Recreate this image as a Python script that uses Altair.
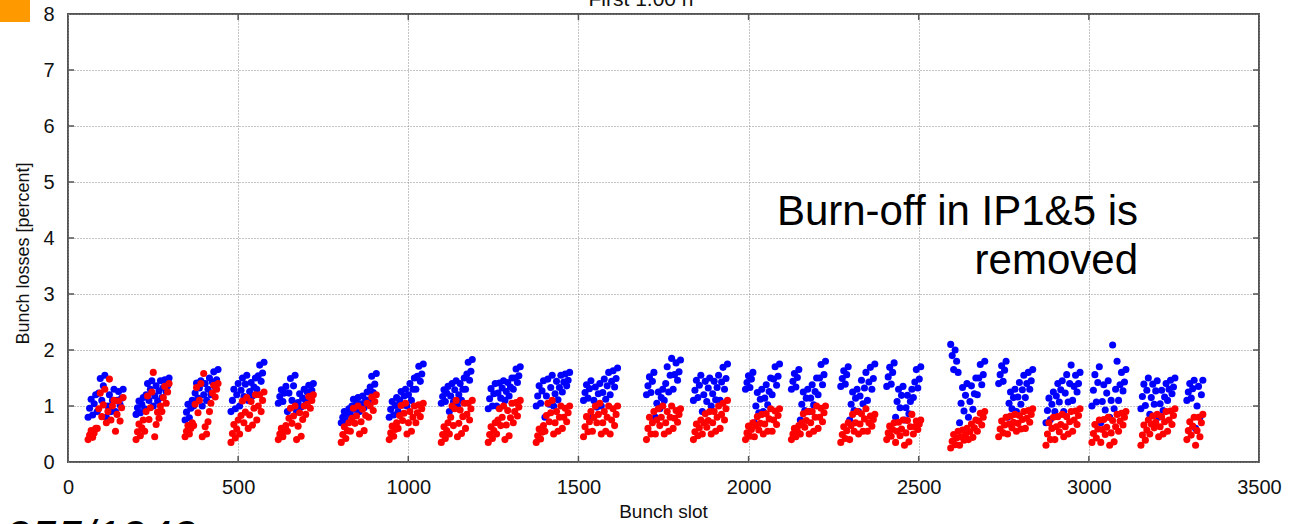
import altair as alt
import pandas as pd

# ---- data ----
# bunch-slot span of each injection group (first and last bunch)
group_start = [59, 200, 344, 479, 618, 803, 944, 1097, 1235, 1376, 1515, 1700,
               1838, 1991, 2126, 2271, 2406, 2594, 2735, 2874, 3009, 3153, 3288]
group_end = [162, 297, 441, 576, 721, 906, 1044, 1188, 1329, 1474, 1615, 1800,
             1938, 2091, 2226, 2371, 2506, 2694, 2835, 2974, 3109, 3253, 3335]

# losses [%] along each group, beam 1 (blue)
blue_loss = [
    [0.80, 0.96, 1.12, 0.84, 1.04, 1.20, 0.90, 1.23, 1.49, 1.10, 1.36, 1.55, 0.80, 1.00, 1.20, 0.90, 1.10, 1.30, 0.90, 1.10, 1.26, 1.02, 1.14, 1.30],
    [0.85, 0.97, 1.09, 0.88, 1.03, 1.15, 0.95, 1.20, 1.40, 1.10, 1.30, 1.45, 1.00, 1.18, 1.36, 1.09, 1.27, 1.45, 1.15, 1.33, 1.47, 1.26, 1.36, 1.50],
    [0.75, 0.89, 1.03, 0.79, 0.96, 1.10, 1.00, 1.23, 1.41, 1.14, 1.32, 1.45, 1.00, 1.20, 1.40, 1.10, 1.30, 1.50, 1.20, 1.43, 1.61, 1.34, 1.47, 1.65],
    [0.90, 1.10, 1.30, 0.95, 1.20, 1.40, 1.00, 1.28, 1.50, 1.17, 1.39, 1.55, 1.10, 1.26, 1.42, 1.18, 1.34, 1.50, 1.30, 1.54, 1.73, 1.44, 1.59, 1.78],
    [1.05, 1.17, 1.29, 1.08, 1.23, 1.35, 0.90, 1.23, 1.49, 1.10, 1.36, 1.55, 0.90, 1.06, 1.22, 0.98, 1.14, 1.30, 1.10, 1.25, 1.37, 1.19, 1.28, 1.40],
    [0.70, 0.80, 0.90, 0.73, 0.85, 0.95, 0.85, 1.00, 1.12, 0.94, 1.06, 1.15, 0.90, 1.04, 1.18, 0.97, 1.11, 1.25, 1.10, 1.34, 1.53, 1.24, 1.39, 1.58],
    [0.80, 0.94, 1.08, 0.84, 1.01, 1.15, 0.90, 1.10, 1.26, 1.02, 1.18, 1.30, 1.00, 1.20, 1.40, 1.10, 1.30, 1.50, 1.30, 1.53, 1.71, 1.44, 1.57, 1.75],
    [1.05, 1.17, 1.29, 1.08, 1.23, 1.35, 0.90, 1.18, 1.40, 1.07, 1.29, 1.45, 1.00, 1.20, 1.40, 1.10, 1.30, 1.50, 1.30, 1.57, 1.78, 1.46, 1.62, 1.83],
    [0.95, 1.13, 1.31, 1.00, 1.22, 1.40, 1.00, 1.23, 1.41, 1.14, 1.32, 1.45, 1.10, 1.26, 1.42, 1.18, 1.34, 1.50, 1.30, 1.50, 1.66, 1.42, 1.54, 1.70],
    [1.00, 1.18, 1.36, 1.05, 1.27, 1.45, 0.80, 1.18, 1.48, 1.03, 1.33, 1.55, 1.00, 1.22, 1.44, 1.11, 1.33, 1.55, 1.25, 1.43, 1.57, 1.36, 1.46, 1.60],
    [1.10, 1.24, 1.38, 1.14, 1.31, 1.45, 0.80, 1.10, 1.34, 0.98, 1.22, 1.40, 1.00, 1.24, 1.48, 1.12, 1.36, 1.60, 1.20, 1.44, 1.63, 1.34, 1.49, 1.68],
    [1.20, 1.36, 1.52, 1.24, 1.44, 1.60, 0.80, 1.05, 1.25, 0.95, 1.15, 1.30, 1.10, 1.40, 1.70, 1.25, 1.55, 1.85, 1.30, 1.56, 1.77, 1.46, 1.61, 1.82],
    [1.10, 1.28, 1.46, 1.15, 1.37, 1.55, 0.90, 1.20, 1.44, 1.08, 1.32, 1.50, 1.00, 1.22, 1.44, 1.11, 1.33, 1.55, 1.10, 1.43, 1.69, 1.30, 1.49, 1.75],
    [1.30, 1.42, 1.54, 1.33, 1.48, 1.60, 0.70, 1.00, 1.24, 0.88, 1.12, 1.30, 0.90, 1.14, 1.38, 1.02, 1.26, 1.50, 1.20, 1.48, 1.70, 1.37, 1.53, 1.75],
    [1.30, 1.44, 1.58, 1.34, 1.51, 1.65, 0.75, 1.03, 1.25, 0.92, 1.14, 1.30, 0.90, 1.14, 1.38, 1.02, 1.26, 1.50, 1.20, 1.50, 1.74, 1.38, 1.56, 1.80],
    [1.35, 1.49, 1.63, 1.39, 1.56, 1.70, 0.75, 1.03, 1.25, 0.92, 1.14, 1.30, 0.90, 1.18, 1.46, 1.04, 1.32, 1.60, 1.10, 1.43, 1.69, 1.30, 1.49, 1.75],
    [1.35, 1.52, 1.69, 1.39, 1.60, 1.77, 0.80, 1.08, 1.30, 0.97, 1.19, 1.35, 0.75, 0.97, 1.19, 0.86, 1.08, 1.30, 1.15, 1.43, 1.65, 1.32, 1.48, 1.70],
    [2.10, 1.90, 1.65, 2.00, 1.80, 1.60, 0.70, 1.05, 1.33, 0.91, 1.19, 1.40, 0.80, 1.08, 1.36, 0.94, 1.22, 1.50, 1.20, 1.50, 1.74, 1.38, 1.56, 1.80],
    [1.40, 1.56, 1.72, 1.44, 1.64, 1.80, 0.80, 1.05, 1.25, 0.95, 1.15, 1.30, 0.90, 1.16, 1.42, 1.03, 1.29, 1.55, 1.15, 1.40, 1.60, 1.30, 1.45, 1.65],
    [0.70, 0.92, 1.14, 0.76, 1.03, 1.25, 0.90, 1.18, 1.40, 1.07, 1.29, 1.45, 0.90, 1.23, 1.56, 1.07, 1.40, 1.73, 1.10, 1.35, 1.55, 1.25, 1.40, 1.60],
    [1.00, 1.28, 1.56, 1.07, 1.42, 1.70, 0.70, 1.08, 1.38, 0.93, 1.23, 1.45, 0.80, 1.10, 2.09, 0.95, 1.30, 1.80, 1.10, 1.38, 1.60, 1.27, 1.43, 1.65],
    [0.95, 1.17, 1.39, 1.01, 1.28, 1.50, 0.85, 1.15, 1.39, 1.03, 1.27, 1.45, 0.80, 1.04, 1.28, 0.92, 1.16, 1.40, 1.10, 1.30, 1.46, 1.22, 1.34, 1.50],
    [1.10, 1.25, 1.40, 1.14, 1.31, 1.46, 0.60, 1.00, 1.35, 0.80, 1.20, 1.46],
]

# losses [%] along each group, beam 2 (red)
red_loss = [
    [0.40, 0.48, 0.56, 0.44, 0.52, 0.60, 0.60, 0.95, 1.23, 0.81, 1.02, 1.30, 0.70, 0.90, 1.48, 0.75, 1.00, 1.10, 0.55, 0.85, 1.09, 0.73, 0.97, 1.15],
    [0.40, 0.54, 0.68, 0.47, 0.61, 0.75, 0.55, 0.90, 1.18, 0.76, 0.97, 1.25, 1.60, 0.45, 0.67, 0.89, 0.78, 1.00, 0.90, 1.15, 1.35, 1.05, 1.25, 1.40],
    [0.45, 0.55, 0.65, 0.50, 0.60, 0.70, 0.65, 1.03, 1.33, 0.88, 1.10, 1.40, 0.45, 1.58, 0.63, 0.50, 0.72, 0.90, 1.05, 1.23, 1.37, 1.16, 1.30, 1.40],
    [0.35, 0.51, 0.67, 0.43, 0.59, 0.75, 0.50, 0.83, 1.09, 0.70, 0.89, 1.15, 0.60, 0.84, 1.08, 0.66, 0.96, 1.20, 0.75, 1.00, 1.20, 0.90, 1.10, 1.25],
    [0.40, 0.50, 0.60, 0.45, 0.55, 0.65, 0.55, 0.78, 0.96, 0.69, 0.82, 1.00, 0.40, 0.64, 0.88, 0.46, 0.76, 1.00, 0.85, 1.03, 1.17, 0.96, 1.10, 1.20],
    [0.35, 0.49, 0.63, 0.42, 0.56, 0.70, 0.55, 0.78, 0.96, 0.69, 0.82, 1.00, 0.50, 0.72, 0.94, 0.56, 0.83, 1.05, 0.80, 1.00, 1.16, 0.92, 1.08, 1.20],
    [0.40, 0.52, 0.64, 0.46, 0.58, 0.70, 0.60, 0.83, 1.01, 0.74, 0.87, 1.05, 0.50, 0.70, 0.90, 0.55, 0.80, 1.00, 0.70, 0.88, 1.02, 0.81, 0.95, 1.05],
    [0.35, 0.49, 0.63, 0.42, 0.56, 0.70, 0.50, 0.80, 1.00, 0.65, 0.95, 1.10, 0.45, 0.69, 0.93, 0.51, 0.81, 1.05, 0.60, 0.85, 1.05, 0.75, 0.95, 1.10],
    [0.35, 0.49, 0.63, 0.42, 0.56, 0.70, 0.50, 0.75, 0.95, 0.65, 0.80, 1.00, 0.40, 0.66, 0.92, 0.47, 0.79, 1.05, 0.70, 0.90, 1.06, 0.82, 0.98, 1.10],
    [0.35, 0.47, 0.59, 0.41, 0.53, 0.65, 0.55, 0.83, 1.05, 0.72, 0.88, 1.10, 0.50, 0.70, 0.90, 0.55, 0.80, 1.00, 0.60, 0.80, 0.96, 0.72, 0.88, 1.00],
    [0.45, 0.63, 0.81, 0.54, 0.72, 0.90, 0.55, 0.80, 1.00, 0.70, 0.85, 1.05, 0.50, 0.70, 0.90, 0.55, 0.80, 1.00, 0.50, 0.75, 0.95, 0.65, 0.85, 1.00],
    [0.40, 0.60, 0.80, 0.50, 0.70, 0.90, 0.50, 0.75, 0.95, 0.65, 0.80, 1.00, 0.50, 0.70, 0.90, 0.55, 0.80, 1.00, 0.60, 0.78, 0.92, 0.71, 0.85, 0.95],
    [0.40, 0.54, 0.68, 0.47, 0.61, 0.75, 0.50, 0.70, 0.86, 0.62, 0.74, 0.90, 0.50, 0.70, 0.90, 0.55, 0.80, 1.00, 0.60, 0.85, 1.05, 0.75, 0.95, 1.10],
    [0.40, 0.52, 0.64, 0.46, 0.58, 0.70, 0.45, 0.65, 0.81, 0.57, 0.69, 0.85, 0.50, 0.68, 0.86, 0.55, 0.77, 0.95, 0.55, 0.75, 0.91, 0.67, 0.83, 0.95],
    [0.40, 0.50, 0.60, 0.45, 0.55, 0.65, 0.50, 0.70, 0.86, 0.62, 0.74, 0.90, 0.50, 0.70, 0.90, 0.55, 0.80, 1.00, 0.60, 0.80, 0.96, 0.72, 0.88, 1.00],
    [0.35, 0.49, 0.63, 0.42, 0.56, 0.70, 0.40, 0.65, 0.85, 0.55, 0.70, 0.90, 0.50, 0.68, 0.86, 0.55, 0.77, 0.95, 0.55, 0.70, 0.82, 0.64, 0.76, 0.85],
    [0.40, 0.52, 0.64, 0.46, 0.58, 0.70, 0.35, 0.55, 0.71, 0.47, 0.59, 0.75, 0.30, 0.52, 0.74, 0.36, 0.63, 0.85, 0.50, 0.63, 0.73, 0.58, 0.68, 0.75],
    [0.25, 0.37, 0.49, 0.31, 0.43, 0.55, 0.30, 0.45, 0.57, 0.39, 0.48, 0.60, 0.40, 0.54, 0.68, 0.44, 0.61, 0.75, 0.55, 0.73, 0.87, 0.66, 0.80, 0.90],
    [0.45, 0.59, 0.73, 0.52, 0.66, 0.80, 0.50, 0.68, 0.82, 0.61, 0.71, 0.85, 0.55, 0.69, 0.83, 0.59, 0.76, 0.90, 0.60, 0.78, 0.92, 0.71, 0.85, 0.95],
    [0.30, 0.50, 0.70, 0.40, 0.60, 0.80, 0.40, 0.63, 0.81, 0.54, 0.67, 0.85, 0.45, 0.63, 0.81, 0.50, 0.72, 0.90, 0.55, 0.75, 0.91, 0.67, 0.83, 0.95],
    [0.35, 0.51, 0.67, 0.43, 0.59, 0.75, 0.35, 0.58, 0.76, 0.49, 0.62, 0.80, 0.30, 0.52, 0.74, 0.36, 0.63, 0.85, 0.55, 0.73, 0.87, 0.66, 0.80, 0.90],
    [0.30, 0.48, 0.66, 0.39, 0.57, 0.75, 0.50, 0.68, 0.82, 0.61, 0.71, 0.85, 0.45, 0.63, 0.81, 0.50, 0.72, 0.90, 0.55, 0.75, 0.91, 0.67, 0.83, 0.95],
    [0.40, 0.56, 0.72, 0.48, 0.64, 0.80, 0.30, 0.56, 0.80, 0.45, 0.70, 0.85],
]

x_ticks = [0, 500, 1000, 1500, 2000, 2500, 3000, 3500]
y_ticks = [0, 1, 2, 3, 4, 5, 6, 7, 8]
inner_x_ticks = [500, 1000, 1500, 2000, 2500, 3000]
inner_y_ticks = [1, 2, 3, 4, 5, 6, 7]


def beam_frame(values):
    rows = []
    for g, vals in enumerate(values):
        s, e = group_start[g], group_end[g]
        n = len(vals)
        for i, v in enumerate(vals):
            rows.append({"slot": s + (e - s) * i / (n - 1), "loss": v})
    return pd.DataFrame(rows)


blue_df = beam_frame(blue_loss)
red_df = beam_frame(red_loss)

FONT = "Liberation Sans"
W, H = 1191, 448

x_scale = alt.Scale(domain=[0, 3500], nice=False, zero=False)
y_scale = alt.Scale(domain=[0, 8], nice=False)

x_axis = alt.Axis(values=x_ticks, format="d", grid=True, gridColor="#8a8a8a", gridDash=[1, 2],
                  gridWidth=1, domain=False, ticks=False, tickSize=0,
                  labelFontSize=20, labelFont=FONT, labelColor="#111",
                  labelPadding=15, labelFlush=False, title="Bunch slot",
                  titleFont=FONT, titleFontSize=19, titleFontWeight="normal",
                  titleColor="#111", titleX=595, titleY=40, titleBaseline="top")
y_axis = alt.Axis(values=y_ticks, format="d", grid=True, gridColor="#8a8a8a", gridDash=[1, 2],
                  gridWidth=1, domain=False, ticks=False, tickSize=0,
                  labelFontSize=20, labelFont=FONT, labelColor="#111",
                  labelPadding=14, title="Bunch losses [percent]",
                  titleFont=FONT, titleFontSize=18, titleFontWeight="normal",
                  titleColor="#111", titleX=-36, titleY=239)

X = alt.X("slot:Q", scale=x_scale, axis=x_axis)
Y = alt.Y("loss:Q", scale=y_scale, axis=y_axis)

blue = alt.Chart(blue_df).mark_circle(size=50, opacity=1, color="#0000ff").encode(x=X, y=Y)
red = alt.Chart(red_df).mark_circle(size=50, opacity=1, color="#ff0000").encode(x=X, y=Y)

# inward mirror ticks on the frame
xt = pd.DataFrame({"slot": inner_x_ticks})
yt = pd.DataFrame({"loss": inner_y_ticks})
tick_style = dict(color="#555", strokeWidth=1.5)
top_ticks = alt.Chart(xt).mark_rule(**tick_style).encode(
    x=X, y=alt.value(0), y2=alt.value(6))
bot_ticks = alt.Chart(xt).mark_rule(**tick_style).encode(
    x=X, y=alt.value(H - 6), y2=alt.value(H))
left_ticks = alt.Chart(yt).mark_rule(**tick_style).encode(
    y=Y, x=alt.value(0), x2=alt.value(6))
right_ticks = alt.Chart(yt).mark_rule(**tick_style).encode(
    y=Y, x=alt.value(W - 6), x2=alt.value(W))

note_df = pd.DataFrame({"line": ["Burn-off in IP1&5 is", "removed"]})
note1 = alt.Chart(note_df.iloc[[0]]).mark_text(
    font=FONT, fontSize=42, align="right", baseline="alphabetic", color="#000"
).encode(text="line:N", x=alt.value(1070), y=alt.value(211))
note2 = alt.Chart(note_df.iloc[[1]]).mark_text(
    font=FONT, fontSize=42, align="right", baseline="alphabetic", color="#000"
).encode(text="line:N", x=alt.value(1070), y=alt.value(260))

title_df = pd.DataFrame({"t": ["First 1.00 h"]})
title = alt.Chart(title_df).mark_text(
    font=FONT, fontSize=21, align="center", baseline="alphabetic", color="#111"
).encode(text="t:N", x=alt.value(573), y=alt.value(-8))

foot_df = pd.DataFrame({"t": ["255/1242"]})
foot = alt.Chart(foot_df).mark_text(
    font=FONT, fontSize=46, fontStyle="italic", align="left", baseline="alphabetic", color="#000"
).encode(text="t:N", x=alt.value(-63), y=alt.value(539))

box_df = pd.DataFrame({"k": [0]})
box = alt.Chart(box_df).mark_rect(color="#ff9900").encode(
    x=alt.value(-68), x2=alt.value(-38), y=alt.value(-14), y2=alt.value(8))

chart = alt.layer(
    blue, red, top_ticks, bot_ticks, left_ticks, right_ticks,
    note1, note2, title, foot, box
).properties(
    width=W, height=H,
    autosize=alt.AutoSizeParams(type="none"),
    padding={"left": 68, "top": 14, "right": 38, "bottom": 62},
    background="white",
).configure_view(stroke="#555", strokeWidth=2)

chart.save("out.html", embed_options={"renderer": "svg", "actions": False})
